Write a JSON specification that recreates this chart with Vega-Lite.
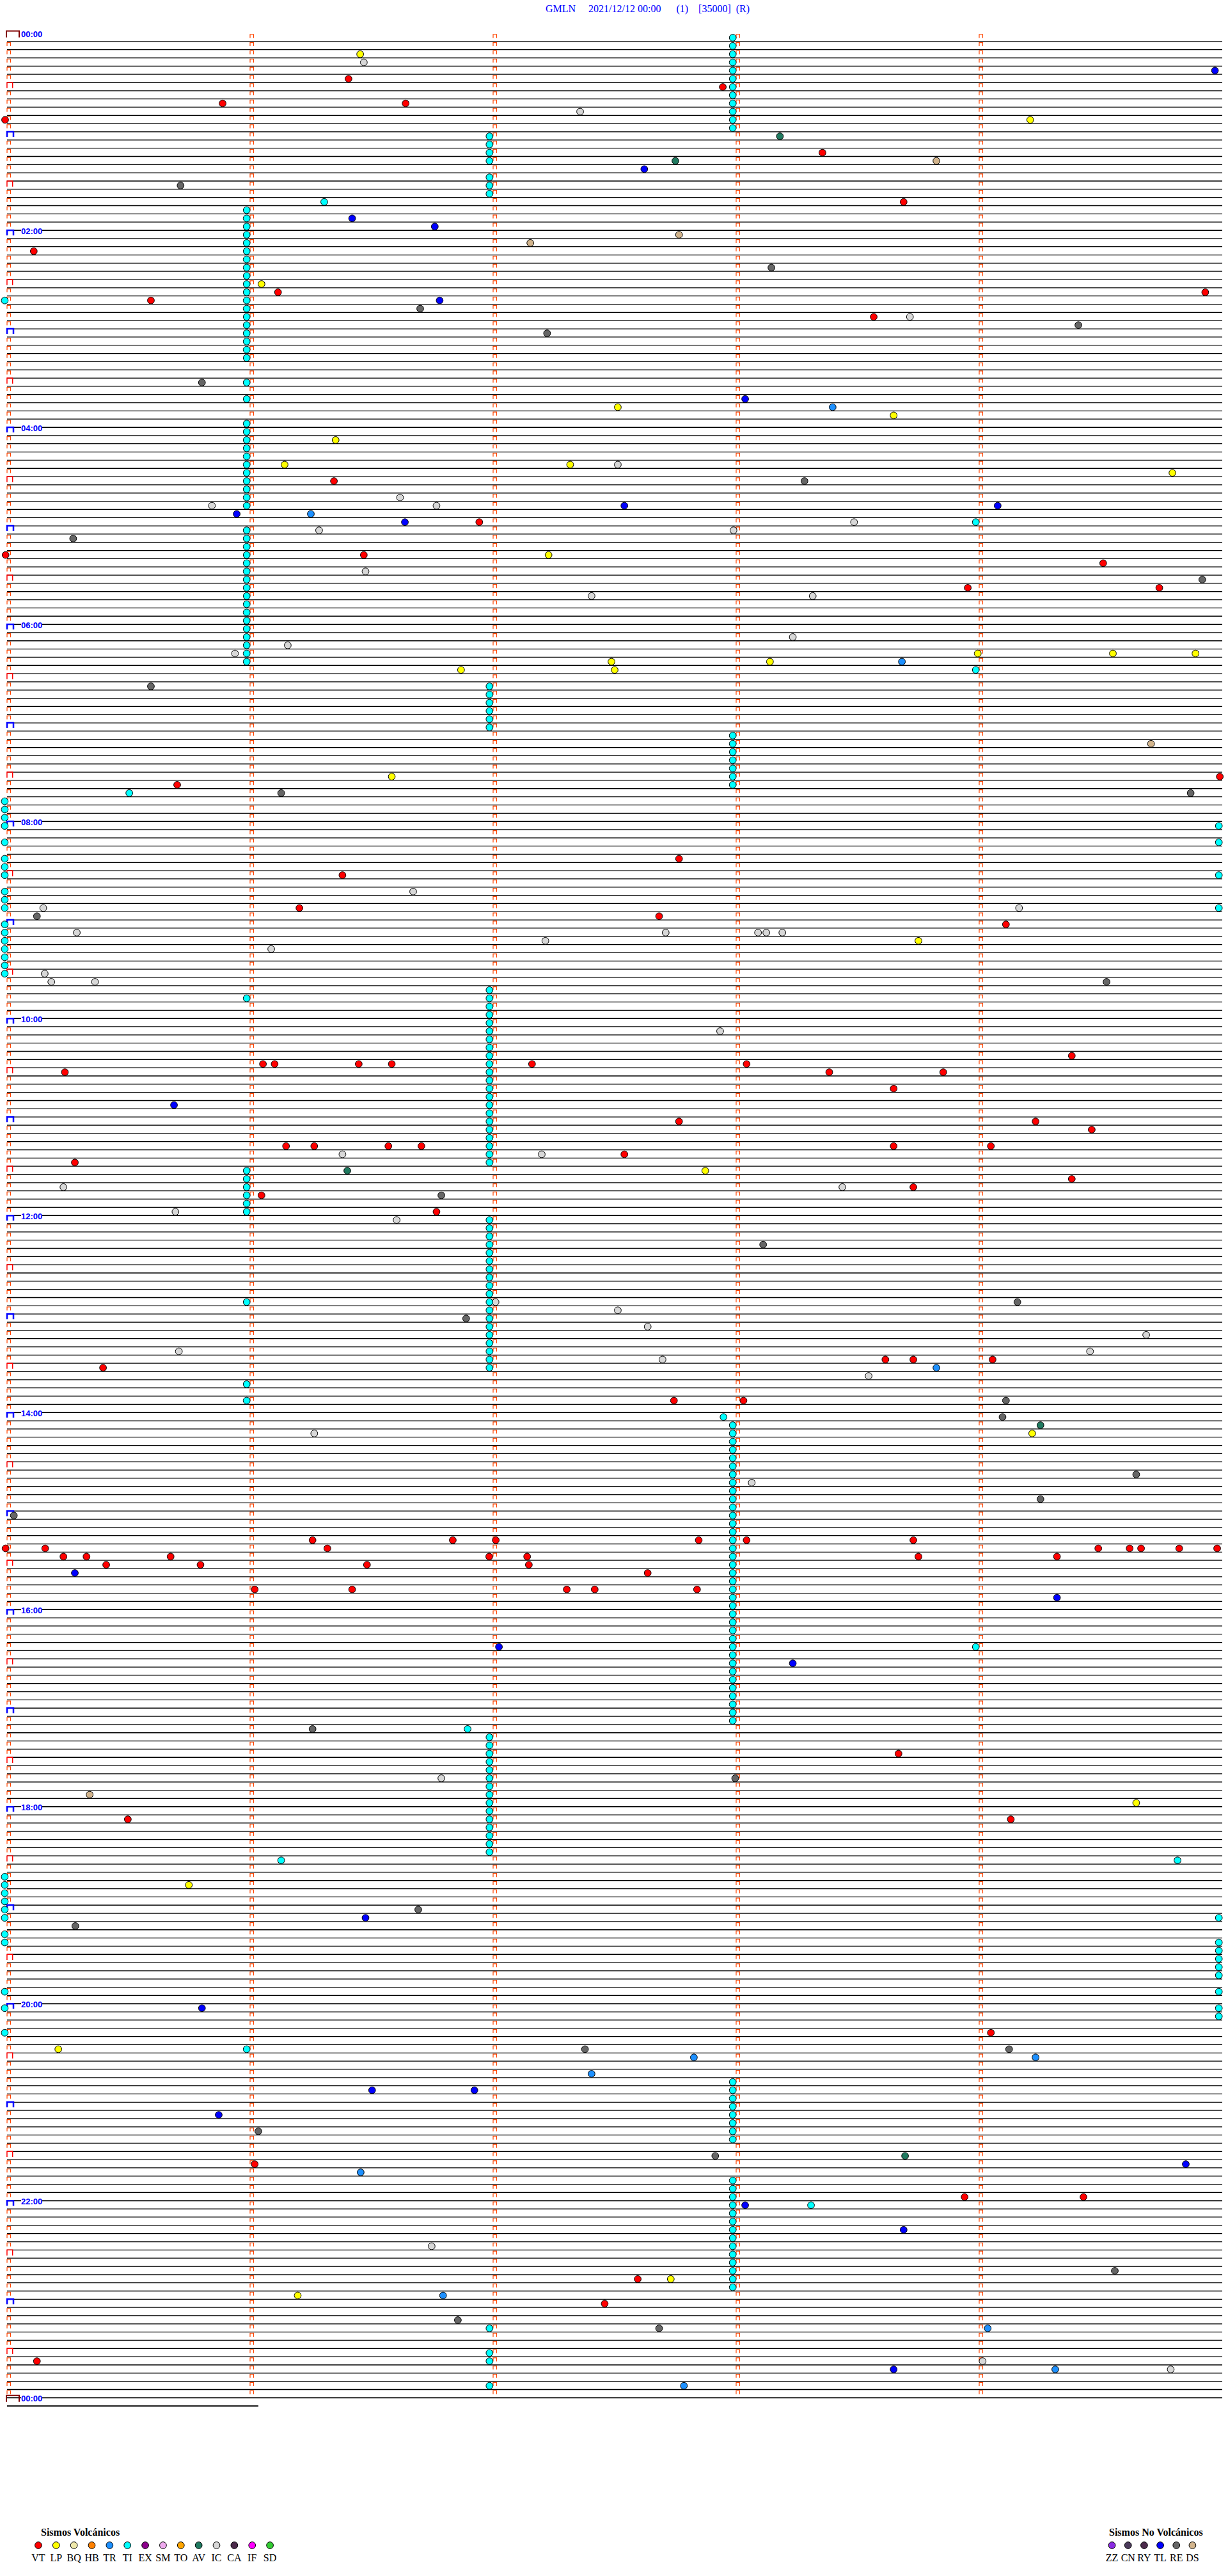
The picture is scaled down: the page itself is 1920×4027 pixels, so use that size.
{
"$schema":"https://vega.github.io/schema/vega-lite/v6.json",
"padding":{"left":0,"top":5,"right":0,"bottom":0},
"background":"white",
"config":{"view":{"stroke":null}},
"datasets":{
"rows":[0,1,2,3,4,5,6,7,8,9,10,11,12,13,14,15,16,17,18,19,20,21,22,23,24,25,26,27,28,29,30,31,32,33,34,35,36,37,38,39,40,41,42,43,44,45,46,47,48,49,50,51,52,53,54,55,56,57,58,59,60,61,62,63,64,65,66,67,68,69,70,71,72,73,74,75,76,77,78,79,80,81,82,83,84,85,86,87,88,89,90,91,92,93,94,95,96,97,98,99,100,101,102,103,104,105,106,107,108,109,110,111,112,113,114,115,116,117,118,119,120,121,122,123,124,125,126,127,128,129,130,131,132,133,134,135,136,137,138,139,140,141,142,143,144,145,146,147,148,149,150,151,152,153,154,155,156,157,158,159,160,161,162,163,164,165,166,167,168,169,170,171,172,173,174,175,176,177,178,179,180,181,182,183,184,185,186,187,188,189,190,191,192,193,194,195,196,197,198,199,200,201,202,203,204,205,206,207,208,209,210,211,212,213,214,215,216,217,218,219,220,221,222,223,224,225,226,227,228,229,230,231,232,233,234,235,236,237,238,239,240,241,242,243,244,245,246,247,248,249,250,251,252,253,254,255,256,257,258,259,260,261,262,263,264,265,266,267,268,269,270,271,272,273,274,275,276,277,278,279,280,281,282,283,284,285,286,287,288,289],
"hours":[{"r":0,"t":"00:00"},{"r":24,"t":"02:00"},{"r":48,"t":"04:00"},{"r":72,"t":"06:00"},{"r":96,"t":"08:00"},{"r":120,"t":"10:00"},{"r":144,"t":"12:00"},{"r":168,"t":"14:00"},{"r":192,"t":"16:00"},{"r":216,"t":"18:00"},{"r":240,"t":"20:00"},{"r":264,"t":"22:00"},{"r":288,"t":"00:00"}],
"volc":[{"c":"VT"},{"c":"LP"},{"c":"BQ"},{"c":"HB"},{"c":"TR"},{"c":"TI"},{"c":"EX"},{"c":"SM"},{"c":"TO"},{"c":"AV"},{"c":"IC"},{"c":"CA"},{"c":"IF"},{"c":"SD"}],
"novolc":[{"c":"ZZ"},{"c":"CN"},{"c":"RY"},{"c":"TL"},{"c":"RE"},{"c":"DS"}],
"ev":[
{"r":2,"m":1.453,"c":"LP"},{"r":3,"m":1.468,"c":"IC"},{"r":4,"m":4.97,"c":"TL"},{"r":5,"m":1.405,"c":"VT"},{"r":6,"m":2.945,"c":"VT"},{"r":8,"m":0.887,"c":"VT"},{"r":8,"m":1.64,"c":"VT"},{"r":9,"m":2.358,"c":"IC"},{"r":10,"m":-0.008,"c":"VT"},{"r":10,"m":4.21,"c":"LP"},
{"r":12,"m":3.18,"c":"AV"},{"r":14,"m":3.355,"c":"VT"},{"r":15,"m":3.824,"c":"DS"},{"r":15,"m":2.75,"c":"AV"},{"r":16,"m":2.622,"c":"TL"},{"r":18,"m":0.714,"c":"RE"},{"r":20,"m":3.689,"c":"VT"},{"r":20,"m":1.305,"c":"TI"},{"r":22,"m":1.42,"c":"TL"},{"r":23,"m":1.76,"c":"TL"},
{"r":24,"m":2.765,"c":"DS"},{"r":25,"m":2.153,"c":"DS"},{"r":26,"m":0.11,"c":"VT"},{"r":28,"m":3.145,"c":"RE"},{"r":30,"m":1.047,"c":"LP"},{"r":31,"m":1.115,"c":"VT"},{"r":31,"m":4.93,"c":"VT"},{"r":32,"m":0.592,"c":"VT"},{"r":32,"m":-0.0095,"c":"TI"},{"r":32,"m":1.78,"c":"TL"},
{"r":33,"m":1.7,"c":"RE"},{"r":34,"m":3.566,"c":"VT"},{"r":34,"m":3.715,"c":"IC"},{"r":35,"m":4.408,"c":"RE"},{"r":36,"m":2.222,"c":"RE"},{"r":42,"m":0.802,"c":"RE"},{"r":44,"m":3.037,"c":"TL"},{"r":45,"m":2.513,"c":"LP"},{"r":45,"m":3.397,"c":"TR"},{"r":46,"m":3.648,"c":"LP"},
{"r":49,"m":1.352,"c":"LP"},{"r":52,"m":1.142,"c":"LP"},{"r":52,"m":2.317,"c":"LP"},{"r":52,"m":2.513,"c":"IC"},{"r":53,"m":4.795,"c":"LP"},{"r":54,"m":3.281,"c":"RE"},{"r":54,"m":1.345,"c":"VT"},{"r":56,"m":1.617,"c":"IC"},{"r":57,"m":0.843,"c":"IC"},{"r":57,"m":1.767,"c":"IC"},
{"r":57,"m":4.076,"c":"TL"},{"r":57,"m":2.54,"c":"TL"},{"r":58,"m":0.945,"c":"TL"},{"r":58,"m":1.25,"c":"TR"},{"r":59,"m":1.637,"c":"TL"},{"r":59,"m":1.943,"c":"VT"},{"r":59,"m":3.485,"c":"IC"},{"r":59,"m":3.986,"c":"TI"},{"r":60,"m":2.989,"c":"IC"},{"r":60,"m":1.284,"c":"IC"},
{"r":61,"m":0.272,"c":"RE"},{"r":63,"m":-0.006,"c":"VT"},{"r":63,"m":1.468,"c":"VT"},{"r":63,"m":2.228,"c":"LP"},{"r":64,"m":4.51,"c":"VT"},{"r":65,"m":1.475,"c":"IC"},{"r":66,"m":4.918,"c":"RE"},{"r":67,"m":3.953,"c":"VT"},{"r":67,"m":4.741,"c":"VT"},{"r":68,"m":2.405,"c":"IC"},
{"r":68,"m":3.315,"c":"IC"},{"r":73,"m":3.233,"c":"IC"},{"r":74,"m":1.155,"c":"IC"},{"r":75,"m":0.938,"c":"IC"},{"r":76,"m":2.487,"c":"LP"},{"r":75,"m":4.89,"c":"LP"},{"r":75,"m":4.55,"c":"LP"},{"r":75,"m":3.994,"c":"LP"},{"r":76,"m":3.139,"c":"LP"},{"r":76,"m":3.682,"c":"TR"},
{"r":77,"m":1.868,"c":"LP"},{"r":77,"m":2.5,"c":"LP"},{"r":77,"m":3.986,"c":"TI"},{"r":79,"m":0.592,"c":"RE"},{"r":86,"m":4.707,"c":"DS"},{"r":90,"m":4.99,"c":"VT"},{"r":90,"m":1.583,"c":"LP"},{"r":91,"m":0.7,"c":"VT"},{"r":92,"m":0.503,"c":"TI"},{"r":92,"m":1.128,"c":"RE"},
{"r":92,"m":4.87,"c":"RE"},{"r":100,"m":2.765,"c":"VT"},{"r":102,"m":1.38,"c":"VT"},{"r":104,"m":1.671,"c":"IC"},{"r":106,"m":1.203,"c":"VT"},{"r":107,"m":2.683,"c":"VT"},{"r":106,"m":0.149,"c":"IC"},{"r":107,"m":0.123,"c":"RE"},{"r":106,"m":4.164,"c":"IC"},{"r":108,"m":4.11,"c":"VT"},
{"r":109,"m":0.287,"c":"IC"},{"r":109,"m":2.71,"c":"IC"},{"r":109,"m":3.09,"c":"IC"},{"r":109,"m":3.124,"c":"IC"},{"r":109,"m":3.19,"c":"IC"},{"r":110,"m":2.215,"c":"IC"},{"r":110,"m":3.75,"c":"LP"},{"r":111,"m":1.087,"c":"IC"},{"r":114,"m":0.155,"c":"IC"},{"r":115,"m":0.182,"c":"IC"},
{"r":115,"m":0.362,"c":"IC"},{"r":115,"m":4.524,"c":"RE"},{"r":121,"m":2.934,"c":"IC"},{"r":124,"m":4.381,"c":"VT"},{"r":126,"m":0.238,"c":"VT"},{"r":125,"m":1.053,"c":"VT"},{"r":125,"m":1.101,"c":"VT"},{"r":125,"m":1.447,"c":"VT"},{"r":125,"m":1.583,"c":"VT"},{"r":125,"m":2.16,"c":"VT"},
{"r":125,"m":3.043,"c":"VT"},{"r":126,"m":3.383,"c":"VT"},{"r":128,"m":3.648,"c":"VT"},{"r":126,"m":3.852,"c":"VT"},{"r":130,"m":0.687,"c":"TL"},{"r":132,"m":2.765,"c":"VT"},{"r":132,"m":4.232,"c":"VT"},{"r":133,"m":4.463,"c":"VT"},{"r":135,"m":1.148,"c":"VT"},{"r":135,"m":1.264,"c":"VT"},
{"r":135,"m":1.569,"c":"VT"},{"r":135,"m":1.705,"c":"VT"},{"r":135,"m":3.648,"c":"VT"},{"r":135,"m":4.048,"c":"VT"},{"r":136,"m":1.38,"c":"IC"},{"r":136,"m":2.2,"c":"IC"},{"r":136,"m":2.54,"c":"VT"},{"r":137,"m":0.279,"c":"VT"},{"r":138,"m":1.4,"c":"AV"},{"r":138,"m":2.873,"c":"LP"},
{"r":139,"m":4.381,"c":"VT"},{"r":140,"m":0.232,"c":"IC"},{"r":140,"m":3.437,"c":"IC"},{"r":140,"m":3.729,"c":"VT"},{"r":141,"m":1.047,"c":"VT"},{"r":141,"m":1.787,"c":"RE"},{"r":143,"m":0.693,"c":"IC"},{"r":144,"m":1.603,"c":"IC"},{"r":143,"m":1.767,"c":"VT"},{"r":147,"m":3.111,"c":"RE"},
{"r":154,"m":4.157,"c":"RE"},{"r":156,"m":1.889,"c":"RE"},{"r":154,"m":2.01,"c":"IC"},{"r":155,"m":2.513,"c":"IC"},{"r":157,"m":2.636,"c":"IC"},{"r":158,"m":4.687,"c":"IC"},{"r":160,"m":0.707,"c":"IC"},{"r":160,"m":4.456,"c":"IC"},{"r":161,"m":2.697,"c":"IC"},{"r":161,"m":3.614,"c":"VT"},
{"r":161,"m":3.729,"c":"VT"},{"r":161,"m":4.055,"c":"VT"},{"r":162,"m":3.824,"c":"TR"},{"r":162,"m":0.395,"c":"VT"},{"r":163,"m":3.545,"c":"IC"},{"r":166,"m":2.744,"c":"VT"},{"r":166,"m":3.03,"c":"VT"},{"r":166,"m":4.11,"c":"RE"},{"r":168,"m":4.096,"c":"RE"},{"r":168,"m":2.948,"c":"TI"},
{"r":169,"m":4.252,"c":"AV"},{"r":170,"m":4.218,"c":"LP"},{"r":170,"m":1.264,"c":"IC"},{"r":176,"m":3.064,"c":"IC"},{"r":175,"m":4.646,"c":"RE"},{"r":178,"m":4.252,"c":"RE"},{"r":180,"m":0.028,"c":"RE"},{"r":184,"m":-0.006,"c":"VT"},{"r":184,"m":0.157,"c":"VT"},{"r":185,"m":0.232,"c":"VT"},
{"r":185,"m":0.327,"c":"VT"},{"r":186,"m":0.408,"c":"VT"},{"r":185,"m":0.673,"c":"VT"},{"r":186,"m":0.796,"c":"VT"},{"r":183,"m":1.257,"c":"VT"},{"r":184,"m":1.318,"c":"VT"},{"r":186,"m":1.481,"c":"VT"},{"r":183,"m":1.834,"c":"VT"},{"r":183,"m":2.011,"c":"VT"},{"r":185,"m":1.984,"c":"VT"},
{"r":185,"m":2.14,"c":"VT"},{"r":186,"m":2.147,"c":"VT"},{"r":183,"m":2.846,"c":"VT"},{"r":183,"m":3.043,"c":"VT"},{"r":183,"m":3.729,"c":"VT"},{"r":185,"m":3.75,"c":"VT"},{"r":185,"m":4.32,"c":"VT"},{"r":184,"m":4.49,"c":"VT"},{"r":184,"m":4.619,"c":"VT"},{"r":184,"m":4.666,"c":"VT"},
{"r":184,"m":4.823,"c":"VT"},{"r":184,"m":4.979,"c":"VT"},{"r":187,"m":0.279,"c":"TL"},{"r":187,"m":2.636,"c":"VT"},{"r":189,"m":1.019,"c":"VT"},{"r":189,"m":1.42,"c":"VT"},{"r":189,"m":2.303,"c":"VT"},{"r":189,"m":2.418,"c":"VT"},{"r":189,"m":2.839,"c":"VT"},{"r":190,"m":4.32,"c":"TL"},
{"r":196,"m":2.024,"c":"TL"},{"r":196,"m":3.986,"c":"TI"},{"r":198,"m":3.233,"c":"TL"},{"r":206,"m":1.257,"c":"RE"},{"r":206,"m":1.895,"c":"TI"},{"r":209,"m":3.668,"c":"VT"},{"r":212,"m":1.787,"c":"IC"},{"r":212,"m":2.996,"c":"RE"},{"r":214,"m":0.34,"c":"DS"},{"r":215,"m":4.646,"c":"LP"},
{"r":217,"m":0.497,"c":"VT"},{"r":217,"m":4.13,"c":"VT"},{"r":222,"m":1.128,"c":"TI"},{"r":222,"m":4.816,"c":"TI"},{"r":225,"m":0.748,"c":"LP"},{"r":228,"m":1.692,"c":"RE"},{"r":229,"m":1.475,"c":"TL"},{"r":230,"m":0.281,"c":"RE"},{"r":240,"m":0.802,"c":"TL"},{"r":243,"m":4.048,"c":"VT"},
{"r":245,"m":0.211,"c":"LP"},{"r":245,"m":2.378,"c":"RE"},{"r":245,"m":4.123,"c":"RE"},{"r":246,"m":2.826,"c":"TR"},{"r":246,"m":4.232,"c":"TR"},{"r":248,"m":2.405,"c":"TR"},{"r":250,"m":1.502,"c":"TL"},{"r":250,"m":1.923,"c":"TL"},{"r":253,"m":0.871,"c":"TL"},{"r":255,"m":1.034,"c":"RE"},
{"r":258,"m":2.914,"c":"RE"},{"r":258,"m":3.695,"c":"AV"},{"r":259,"m":4.85,"c":"TL"},{"r":259,"m":1.019,"c":"VT"},{"r":260,"m":1.455,"c":"TR"},{"r":263,"m":3.94,"c":"VT"},{"r":263,"m":4.429,"c":"VT"},{"r":264,"m":3.037,"c":"TL"},{"r":264,"m":3.308,"c":"TI"},{"r":267,"m":3.689,"c":"TL"},
{"r":269,"m":1.747,"c":"IC"},{"r":272,"m":4.558,"c":"RE"},{"r":273,"m":2.595,"c":"VT"},{"r":273,"m":2.731,"c":"LP"},{"r":275,"m":1.196,"c":"LP"},{"r":275,"m":1.794,"c":"TR"},{"r":276,"m":2.459,"c":"VT"},{"r":278,"m":1.855,"c":"RE"},{"r":279,"m":2.683,"c":"RE"},{"r":279,"m":4.035,"c":"TR"},
{"r":283,"m":0.123,"c":"VT"},{"r":283,"m":4.014,"c":"IC"},{"r":284,"m":3.648,"c":"TL"},{"r":284,"m":4.313,"c":"TR"},{"r":284,"m":4.788,"c":"IC"},{"r":286,"m":2.785,"c":"TR"},
{"r":0,"m":2.986,"c":"TI"},{"r":1,"m":2.986,"c":"TI"},{"r":2,"m":2.986,"c":"TI"},{"r":3,"m":2.986,"c":"TI"},{"r":4,"m":2.986,"c":"TI"},{"r":5,"m":2.986,"c":"TI"},{"r":6,"m":2.986,"c":"TI"},{"r":7,"m":2.986,"c":"TI"},{"r":8,"m":2.986,"c":"TI"},{"r":9,"m":2.986,"c":"TI"},{"r":10,"m":2.986,"c":"TI"},{"r":11,"m":2.986,"c":"TI"},
{"r":85,"m":2.986,"c":"TI"},{"r":86,"m":2.986,"c":"TI"},{"r":87,"m":2.986,"c":"TI"},{"r":88,"m":2.986,"c":"TI"},{"r":89,"m":2.986,"c":"TI"},{"r":90,"m":2.986,"c":"TI"},{"r":91,"m":2.986,"c":"TI"},
{"r":169,"m":2.986,"c":"TI"},{"r":170,"m":2.986,"c":"TI"},{"r":171,"m":2.986,"c":"TI"},{"r":172,"m":2.986,"c":"TI"},{"r":173,"m":2.986,"c":"TI"},{"r":174,"m":2.986,"c":"TI"},{"r":175,"m":2.986,"c":"TI"},{"r":176,"m":2.986,"c":"TI"},{"r":177,"m":2.986,"c":"TI"},{"r":178,"m":2.986,"c":"TI"},{"r":179,"m":2.986,"c":"TI"},{"r":180,"m":2.986,"c":"TI"},{"r":181,"m":2.986,"c":"TI"},{"r":182,"m":2.986,"c":"TI"},{"r":183,"m":2.986,"c":"TI"},{"r":184,"m":2.986,"c":"TI"},{"r":185,"m":2.986,"c":"TI"},{"r":186,"m":2.986,"c":"TI"},{"r":187,"m":2.986,"c":"TI"},{"r":188,"m":2.986,"c":"TI"},{"r":189,"m":2.986,"c":"TI"},{"r":190,"m":2.986,"c":"TI"},{"r":191,"m":2.986,"c":"TI"},{"r":192,"m":2.986,"c":"TI"},{"r":193,"m":2.986,"c":"TI"},{"r":194,"m":2.986,"c":"TI"},{"r":195,"m":2.986,"c":"TI"},{"r":196,"m":2.986,"c":"TI"},{"r":197,"m":2.986,"c":"TI"},{"r":198,"m":2.986,"c":"TI"},{"r":199,"m":2.986,"c":"TI"},{"r":200,"m":2.986,"c":"TI"},{"r":201,"m":2.986,"c":"TI"},{"r":202,"m":2.986,"c":"TI"},{"r":203,"m":2.986,"c":"TI"},{"r":204,"m":2.986,"c":"TI"},{"r":205,"m":2.986,"c":"TI"},
{"r":249,"m":2.986,"c":"TI"},{"r":250,"m":2.986,"c":"TI"},{"r":251,"m":2.986,"c":"TI"},{"r":252,"m":2.986,"c":"TI"},{"r":253,"m":2.986,"c":"TI"},{"r":254,"m":2.986,"c":"TI"},{"r":255,"m":2.986,"c":"TI"},{"r":256,"m":2.986,"c":"TI"},
{"r":261,"m":2.986,"c":"TI"},{"r":262,"m":2.986,"c":"TI"},{"r":263,"m":2.986,"c":"TI"},{"r":264,"m":2.986,"c":"TI"},{"r":265,"m":2.986,"c":"TI"},{"r":266,"m":2.986,"c":"TI"},{"r":267,"m":2.986,"c":"TI"},{"r":268,"m":2.986,"c":"TI"},{"r":269,"m":2.986,"c":"TI"},{"r":270,"m":2.986,"c":"TI"},{"r":271,"m":2.986,"c":"TI"},{"r":272,"m":2.986,"c":"TI"},{"r":273,"m":2.986,"c":"TI"},{"r":274,"m":2.986,"c":"TI"},
{"r":12,"m":1.985,"c":"TI"},{"r":13,"m":1.985,"c":"TI"},{"r":14,"m":1.985,"c":"TI"},{"r":15,"m":1.985,"c":"TI"},{"r":17,"m":1.985,"c":"TI"},{"r":18,"m":1.985,"c":"TI"},{"r":19,"m":1.985,"c":"TI"},
{"r":79,"m":1.985,"c":"TI"},{"r":80,"m":1.985,"c":"TI"},{"r":81,"m":1.985,"c":"TI"},{"r":82,"m":1.985,"c":"TI"},{"r":83,"m":1.985,"c":"TI"},{"r":84,"m":1.985,"c":"TI"},
{"r":116,"m":1.985,"c":"TI"},{"r":117,"m":1.985,"c":"TI"},{"r":118,"m":1.985,"c":"TI"},{"r":119,"m":1.985,"c":"TI"},{"r":120,"m":1.985,"c":"TI"},{"r":121,"m":1.985,"c":"TI"},{"r":122,"m":1.985,"c":"TI"},{"r":123,"m":1.985,"c":"TI"},{"r":124,"m":1.985,"c":"TI"},{"r":125,"m":1.985,"c":"TI"},{"r":126,"m":1.985,"c":"TI"},{"r":127,"m":1.985,"c":"TI"},{"r":128,"m":1.985,"c":"TI"},{"r":129,"m":1.985,"c":"TI"},{"r":130,"m":1.985,"c":"TI"},{"r":131,"m":1.985,"c":"TI"},{"r":132,"m":1.985,"c":"TI"},{"r":133,"m":1.985,"c":"TI"},{"r":134,"m":1.985,"c":"TI"},{"r":135,"m":1.985,"c":"TI"},{"r":136,"m":1.985,"c":"TI"},{"r":137,"m":1.985,"c":"TI"},
{"r":144,"m":1.985,"c":"TI"},{"r":145,"m":1.985,"c":"TI"},{"r":146,"m":1.985,"c":"TI"},{"r":147,"m":1.985,"c":"TI"},{"r":148,"m":1.985,"c":"TI"},{"r":149,"m":1.985,"c":"TI"},{"r":150,"m":1.985,"c":"TI"},{"r":151,"m":1.985,"c":"TI"},{"r":152,"m":1.985,"c":"TI"},{"r":153,"m":1.985,"c":"TI"},{"r":154,"m":1.985,"c":"TI"},{"r":155,"m":1.985,"c":"TI"},{"r":156,"m":1.985,"c":"TI"},{"r":157,"m":1.985,"c":"TI"},{"r":158,"m":1.985,"c":"TI"},{"r":159,"m":1.985,"c":"TI"},{"r":160,"m":1.985,"c":"TI"},{"r":161,"m":1.985,"c":"TI"},{"r":162,"m":1.985,"c":"TI"},
{"r":207,"m":1.985,"c":"TI"},{"r":208,"m":1.985,"c":"TI"},{"r":209,"m":1.985,"c":"TI"},{"r":210,"m":1.985,"c":"TI"},{"r":211,"m":1.985,"c":"TI"},{"r":212,"m":1.985,"c":"TI"},{"r":213,"m":1.985,"c":"TI"},{"r":214,"m":1.985,"c":"TI"},{"r":215,"m":1.985,"c":"TI"},{"r":216,"m":1.985,"c":"TI"},{"r":217,"m":1.985,"c":"TI"},{"r":218,"m":1.985,"c":"TI"},{"r":219,"m":1.985,"c":"TI"},{"r":220,"m":1.985,"c":"TI"},{"r":221,"m":1.985,"c":"TI"},
{"r":279,"m":1.985,"c":"TI"},{"r":282,"m":1.985,"c":"TI"},{"r":283,"m":1.985,"c":"TI"},{"r":286,"m":1.985,"c":"TI"},
{"r":21,"m":0.986,"c":"TI"},{"r":22,"m":0.986,"c":"TI"},{"r":23,"m":0.986,"c":"TI"},{"r":24,"m":0.986,"c":"TI"},{"r":25,"m":0.986,"c":"TI"},{"r":26,"m":0.986,"c":"TI"},{"r":27,"m":0.986,"c":"TI"},{"r":28,"m":0.986,"c":"TI"},{"r":29,"m":0.986,"c":"TI"},{"r":30,"m":0.986,"c":"TI"},{"r":31,"m":0.986,"c":"TI"},{"r":32,"m":0.986,"c":"TI"},{"r":33,"m":0.986,"c":"TI"},{"r":34,"m":0.986,"c":"TI"},{"r":35,"m":0.986,"c":"TI"},{"r":36,"m":0.986,"c":"TI"},{"r":37,"m":0.986,"c":"TI"},{"r":38,"m":0.986,"c":"TI"},{"r":39,"m":0.986,"c":"TI"},{"r":42,"m":0.986,"c":"TI"},{"r":44,"m":0.986,"c":"TI"},
{"r":47,"m":0.986,"c":"TI"},{"r":48,"m":0.986,"c":"TI"},{"r":49,"m":0.986,"c":"TI"},{"r":50,"m":0.986,"c":"TI"},{"r":51,"m":0.986,"c":"TI"},{"r":52,"m":0.986,"c":"TI"},{"r":53,"m":0.986,"c":"TI"},{"r":54,"m":0.986,"c":"TI"},{"r":55,"m":0.986,"c":"TI"},{"r":56,"m":0.986,"c":"TI"},{"r":57,"m":0.986,"c":"TI"},
{"r":60,"m":0.986,"c":"TI"},{"r":61,"m":0.986,"c":"TI"},{"r":62,"m":0.986,"c":"TI"},{"r":63,"m":0.986,"c":"TI"},{"r":64,"m":0.986,"c":"TI"},{"r":65,"m":0.986,"c":"TI"},{"r":66,"m":0.986,"c":"TI"},{"r":67,"m":0.986,"c":"TI"},{"r":68,"m":0.986,"c":"TI"},{"r":69,"m":0.986,"c":"TI"},{"r":70,"m":0.986,"c":"TI"},{"r":71,"m":0.986,"c":"TI"},{"r":72,"m":0.986,"c":"TI"},{"r":73,"m":0.986,"c":"TI"},{"r":74,"m":0.986,"c":"TI"},{"r":75,"m":0.986,"c":"TI"},{"r":76,"m":0.986,"c":"TI"},
{"r":117,"m":0.986,"c":"TI"},{"r":138,"m":0.986,"c":"TI"},{"r":139,"m":0.986,"c":"TI"},{"r":140,"m":0.986,"c":"TI"},{"r":141,"m":0.986,"c":"TI"},{"r":142,"m":0.986,"c":"TI"},{"r":143,"m":0.986,"c":"TI"},{"r":154,"m":0.986,"c":"TI"},{"r":164,"m":0.986,"c":"TI"},{"r":166,"m":0.986,"c":"TI"},{"r":245,"m":0.986,"c":"TI"},
{"r":93,"m":-0.0095,"c":"TI"},{"r":94,"m":-0.0095,"c":"TI"},{"r":95,"m":-0.0095,"c":"TI"},{"r":96,"m":-0.0095,"c":"TI"},{"r":98,"m":-0.0095,"c":"TI"},{"r":100,"m":-0.0095,"c":"TI"},{"r":101,"m":-0.0095,"c":"TI"},{"r":102,"m":-0.0095,"c":"TI"},{"r":104,"m":-0.0095,"c":"TI"},{"r":105,"m":-0.0095,"c":"TI"},{"r":106,"m":-0.0095,"c":"TI"},{"r":108,"m":-0.0095,"c":"TI"},{"r":109,"m":-0.0095,"c":"TI"},{"r":110,"m":-0.0095,"c":"TI"},{"r":111,"m":-0.0095,"c":"TI"},{"r":112,"m":-0.0095,"c":"TI"},{"r":113,"m":-0.0095,"c":"TI"},{"r":114,"m":-0.0095,"c":"TI"},
{"r":224,"m":-0.0095,"c":"TI"},{"r":225,"m":-0.0095,"c":"TI"},{"r":226,"m":-0.0095,"c":"TI"},{"r":227,"m":-0.0095,"c":"TI"},{"r":228,"m":-0.0095,"c":"TI"},{"r":229,"m":-0.0095,"c":"TI"},{"r":231,"m":-0.0095,"c":"TI"},{"r":232,"m":-0.0095,"c":"TI"},{"r":238,"m":-0.0095,"c":"TI"},{"r":240,"m":-0.0095,"c":"TI"},{"r":243,"m":-0.0095,"c":"TI"},
{"r":96,"m":4.986,"c":"TI"},{"r":98,"m":4.986,"c":"TI"},{"r":102,"m":4.986,"c":"TI"},{"r":106,"m":4.986,"c":"TI"},{"r":229,"m":4.986,"c":"TI"},{"r":232,"m":4.986,"c":"TI"},{"r":233,"m":4.986,"c":"TI"},{"r":234,"m":4.986,"c":"TI"},{"r":235,"m":4.986,"c":"TI"},{"r":236,"m":4.986,"c":"TI"},{"r":238,"m":4.986,"c":"TI"},{"r":240,"m":4.986,"c":"TI"},{"r":241,"m":4.986,"c":"TI"}
]
},
"vconcat":[
{
"width":1900,"height":3722,
"title":{"text":"GMLN\u00a0\u00a0\u00a0\u00a0\u00a02021/12/12 00:00\u00a0\u00a0\u00a0\u00a0\u00a0\u00a0(1)\u00a0\u00a0\u00a0\u00a0[35000]\u00a0\u00a0(R)","anchor":"start","frame":"group","dx":842,"offset":23,"font":"Liberation Serif","fontSize":16,"fontWeight":"normal","color":"#0000ff"},
"layer":[
{"data":{"name":"rows"},"transform":[{"filter":"datum.data >= 1 && datum.data <= 288 && datum.data % 24 != 0"}],
 "mark":{"type":"rule","color":"#000000","strokeWidth":1.3},
 "encoding":{"x":{"datum":0,"type":"quantitative","scale":{"domain":[0,5],"nice":false,"zero":false},"axis":null},"x2":{"datum":5},"y":{"field":"data","type":"quantitative","scale":{"domain":[0,290],"reverse":true,"nice":false,"zero":false},"axis":null}}},
{"data":{"name":"rows"},"transform":[{"filter":"datum.data >= 24 && datum.data <= 288 && datum.data % 24 == 0"}],
 "mark":{"type":"rule","color":"#000000","strokeWidth":1.8},
 "encoding":{"x":{"datum":0.1447,"type":"quantitative"},"x2":{"datum":5},"y":{"field":"data","type":"quantitative"}}},
{"data":{"name":"rows"},"transform":[{"filter":"datum.data >= 24 && datum.data <= 288 && datum.data % 24 == 0"}],
 "mark":{"type":"rule","color":"#000000","strokeWidth":1.8},
 "encoding":{"x":{"datum":0,"type":"quantitative"},"x2":{"datum":0.0579},"y":{"field":"data","type":"quantitative"}}},
{"data":{"name":"rows"},"transform":[{"filter":"datum.data == 289"}],
 "mark":{"type":"rule","color":"#000000","strokeWidth":2},
 "encoding":{"x":{"datum":0,"type":"quantitative"},"x2":{"datum":1.034},"y":{"field":"data","type":"quantitative"}}},
{"data":{"name":"rows"},"transform":[{"filter":"datum.data <= 287 && datum.data % 6 != 0"}],
 "mark":{"type":"point","shape":"M -1 1 L -1 -1 L 1 -1 L 1 1","filled":false,"stroke":"#ff4500","strokeWidth":1.2,"size":30,"opacity":1,"xOffset":2.75,"yOffset":4.5},
 "encoding":{"x":{"datum":0,"type":"quantitative"},"y":{"field":"data","type":"quantitative"}}},
{"data":{"name":"rows"},"transform":[{"filter":"datum.data <= 287"}],
 "mark":{"type":"point","shape":"M -1 1 L -1 -1 L 1 -1 L 1 1","filled":false,"stroke":"#ff4500","strokeWidth":1.2,"size":30,"opacity":1,"xOffset":2.75,"yOffset":4.5},
 "encoding":{"x":{"datum":1,"type":"quantitative"},"y":{"field":"data","type":"quantitative"}}},
{"data":{"name":"rows"},"transform":[{"filter":"datum.data <= 287"}],
 "mark":{"type":"point","shape":"M -1 1 L -1 -1 L 1 -1 L 1 1","filled":false,"stroke":"#ff4500","strokeWidth":1.2,"size":30,"opacity":1,"xOffset":2.75,"yOffset":4.5},
 "encoding":{"x":{"datum":2,"type":"quantitative"},"y":{"field":"data","type":"quantitative"}}},
{"data":{"name":"rows"},"transform":[{"filter":"datum.data <= 287"}],
 "mark":{"type":"point","shape":"M -1 1 L -1 -1 L 1 -1 L 1 1","filled":false,"stroke":"#ff4500","strokeWidth":1.2,"size":30,"opacity":1,"xOffset":2.75,"yOffset":4.5},
 "encoding":{"x":{"datum":3,"type":"quantitative"},"y":{"field":"data","type":"quantitative"}}},
{"data":{"name":"rows"},"transform":[{"filter":"datum.data <= 287"}],
 "mark":{"type":"point","shape":"M -1 1 L -1 -1 L 1 -1 L 1 1","filled":false,"stroke":"#ff4500","strokeWidth":1.2,"size":30,"opacity":1,"xOffset":2.75,"yOffset":4.5},
 "encoding":{"x":{"datum":4,"type":"quantitative"},"y":{"field":"data","type":"quantitative"}}},
{"data":{"name":"rows"},"transform":[{"filter":"datum.data % 12 == 0 && datum.data > 0 && datum.data < 288"}],
 "mark":{"type":"point","shape":"M -1 0.6 L -1 -1 L 1 -1 L 1 0.6","filled":false,"stroke":"#0000ff","strokeWidth":2.5,"size":100,"opacity":1,"xOffset":5,"yOffset":5},
 "encoding":{"x":{"datum":0,"type":"quantitative"},"y":{"field":"data","type":"quantitative"}}},
{"data":{"name":"rows"},"transform":[{"filter":"datum.data % 12 == 6"}],
 "mark":{"type":"point","shape":"M -1 1 L -1 -1 L 1 -1 L 1 1","filled":false,"stroke":"#ff0000","strokeWidth":1.5,"size":76,"opacity":1,"xOffset":4.3,"yOffset":4.3},
 "encoding":{"x":{"datum":0,"type":"quantitative"},"y":{"field":"data","type":"quantitative"}}},
{"data":{"name":"rows"},"transform":[{"filter":"datum.data == 0 || datum.data == 288"}],
 "mark":{"type":"point","shape":"M -1 0 L -1 -1 L 1 -1 L 1 0","filled":false,"stroke":"#800000","strokeWidth":2,"size":400,"opacity":1,"xOffset":9,"yOffset":6.5},
 "encoding":{"x":{"datum":0,"type":"quantitative"},"y":{"field":"data","type":"quantitative"}}},
{"data":{"name":"hours"},
 "mark":{"type":"text","align":"left","baseline":"middle","dx":22,"dy":2,"font":"Liberation Sans","fontSize":13,"fontWeight":"bold","color":"#0000ff"},
 "encoding":{"x":{"datum":0,"type":"quantitative"},"y":{"field":"r","type":"quantitative"},"text":{"field":"t"}}},
{"data":{"name":"ev"},
 "mark":{"type":"point","filled":true,"size":115,"stroke":"#000000","strokeWidth":1,"opacity":1,"yOffset":7},
 "encoding":{"x":{"field":"m","type":"quantitative"},"y":{"field":"r","type":"quantitative"},
  "fill":{"field":"c","type":"nominal","legend":null,"scale":{"domain":["VT","LP","BQ","HB","TR","TI","EX","SM","TO","AV","IC","CA","IF","SD","ZZ","CN","RY","TL","RE","DS"],"range":["#ff0000","#ffff00","#eee8aa","#ff8000","#1e90ff","#00ffff","#8b008b","#eeaaee","#ffa500","#207a60","#d8d8d8","#4b2a4b","#ff00ff","#33cc33","#8a2be2","#4b3a5a","#4b2a4b","#0000ff","#666666","#d2b48c"]}}}}
]
},
{
"spacing":1190,
"hconcat":[
{"width":500,"height":20,"data":{"name":"volc"},
 "title":{"text":"Sismos Volcánicos","anchor":"start","frame":"group","dx":53,"offset":2,"font":"Liberation Serif","fontSize":16,"fontWeight":"bold","color":"#000000"},
 "encoding":{"x":{"field":"c","type":"nominal","sort":null,"axis":null,"scale":{"type":"point","domain":["VT","LP","BQ","HB","TR","TI","EX","SM","TO","AV","IC","CA","IF","SD"],"range":[35,425]}}},
 "layer":[
  {"mark":{"type":"point","filled":true,"size":115,"stroke":"#000000","strokeWidth":1,"opacity":1},
   "encoding":{"fill":{"field":"c","type":"nominal","legend":null,"scale":{"domain":["VT","LP","BQ","HB","TR","TI","EX","SM","TO","AV","IC","CA","IF","SD","ZZ","CN","RY","TL","RE","DS"],"range":["#ff0000","#ffff00","#eee8aa","#ff8000","#1e90ff","#00ffff","#8b008b","#eeaaee","#ffa500","#207a60","#d8d8d8","#4b2a4b","#ff00ff","#33cc33","#8a2be2","#4b3a5a","#4b2a4b","#0000ff","#666666","#d2b48c"]}}}},
  {"mark":{"type":"text","dy":20,"baseline":"middle","font":"Liberation Serif","fontSize":16,"color":"#000000"},
   "encoding":{"text":{"field":"c"}}}
 ]},
{"width":220,"height":20,"data":{"name":"novolc"},
 "title":{"text":"Sismos No Volcánicos","anchor":"start","frame":"group","dx":33,"offset":2,"font":"Liberation Serif","fontSize":16,"fontWeight":"bold","color":"#000000"},
 "encoding":{"x":{"field":"c","type":"nominal","sort":null,"axis":null,"scale":{"type":"point","domain":["ZZ","CN","RY","TL","RE","DS"],"range":[25,176]}}},
 "layer":[
  {"mark":{"type":"point","filled":true,"size":115,"stroke":"#000000","strokeWidth":1,"opacity":1},
   "encoding":{"fill":{"field":"c","type":"nominal","legend":null,"scale":{"domain":["VT","LP","BQ","HB","TR","TI","EX","SM","TO","AV","IC","CA","IF","SD","ZZ","CN","RY","TL","RE","DS"],"range":["#ff0000","#ffff00","#eee8aa","#ff8000","#1e90ff","#00ffff","#8b008b","#eeaaee","#ffa500","#207a60","#d8d8d8","#4b2a4b","#ff00ff","#33cc33","#8a2be2","#4b3a5a","#4b2a4b","#0000ff","#666666","#d2b48c"]}}}},
  {"mark":{"type":"text","dy":20,"baseline":"middle","font":"Liberation Serif","fontSize":16,"color":"#000000"},
   "encoding":{"text":{"field":"c"}}}
 ]}
]
}
],
"spacing":177
}
